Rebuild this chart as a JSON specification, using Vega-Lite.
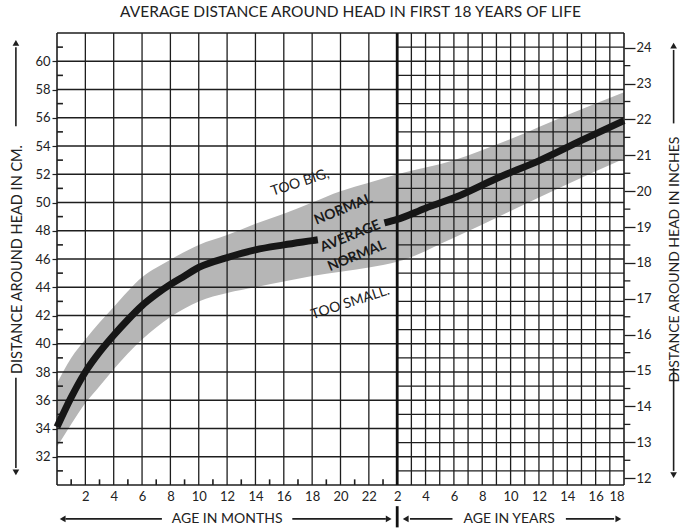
{
  "$schema": "https://vega.github.io/schema/vega-lite/v6.json",
  "width": 567,
  "height": 452,
  "autosize": {"type": "none"},
  "padding": {"left": 57, "top": 33, "right": 66, "bottom": 44},
  "background": "white",
  "config": {"view": {"stroke": null}, "font": "Lato", "axis": {"labelOverlap": false}},
  "title": {"text": "AVERAGE DISTANCE AROUND HEAD IN FIRST 18 YEARS OF LIFE", "fontSize": 15.5, "fontWeight": "normal", "font": "Lato", "color": "#222", "offset": 11, "anchor": "middle", "dx": 10},
  "datasets": {
    "band": [
      {"u": 0, "lo": 32.7, "hi": 37.2}, {"u": 1, "lo": 34.3, "hi": 39.0}, {"u": 2, "lo": 35.8, "hi": 40.3},
      {"u": 3, "lo": 37.0, "hi": 41.5}, {"u": 4, "lo": 38.2, "hi": 42.6}, {"u": 6, "lo": 40.3, "hi": 44.7},
      {"u": 8, "lo": 41.9, "hi": 45.95}, {"u": 10, "lo": 43.0, "hi": 47.0}, {"u": 12, "lo": 43.6, "hi": 47.7},
      {"u": 14, "lo": 44.0, "hi": 48.5}, {"u": 16, "lo": 44.4, "hi": 49.2}, {"u": 18, "lo": 44.8, "hi": 50.0},
      {"u": 20, "lo": 45.1, "hi": 50.8}, {"u": 22, "lo": 45.4, "hi": 51.4}, {"u": 24, "lo": 45.8, "hi": 52.0},
      {"u": 28, "lo": 47.5, "hi": 53.0}, {"u": 32, "lo": 49.4, "hi": 54.5}, {"u": 36, "lo": 51.3, "hi": 56.2},
      {"u": 40, "lo": 53.1, "hi": 57.8}
    ],
    "curve": [
      {"u": 0, "cm": 34.1, "seg": "a"}, {"u": 1, "cm": 36.2, "seg": "a"}, {"u": 2, "cm": 38.0, "seg": "a"},
      {"u": 3, "cm": 39.4, "seg": "a"}, {"u": 4, "cm": 40.6, "seg": "a"}, {"u": 5, "cm": 41.7, "seg": "a"},
      {"u": 6, "cm": 42.7, "seg": "a"}, {"u": 7, "cm": 43.5, "seg": "a"}, {"u": 8, "cm": 44.2, "seg": "a"},
      {"u": 9, "cm": 44.8, "seg": "a"}, {"u": 10, "cm": 45.4, "seg": "a"}, {"u": 12, "cm": 46.1, "seg": "a"},
      {"u": 14, "cm": 46.65, "seg": "a"}, {"u": 16, "cm": 47.0, "seg": "a"}, {"u": 18, "cm": 47.3, "seg": "a"},
      {"u": 18.4, "cm": 47.36, "seg": "a"},
      {"u": 23.1, "cm": 48.55, "seg": "b"}, {"u": 24, "cm": 48.8, "seg": "b"}, {"u": 26, "cm": 49.6, "seg": "b"},
      {"u": 28.2, "cm": 50.4, "seg": "b"}, {"u": 31, "cm": 51.7, "seg": "b"}, {"u": 34.1, "cm": 53.0, "seg": "b"},
      {"u": 37, "cm": 54.4, "seg": "b"}, {"u": 40, "cm": 55.8, "seg": "b"}
    ],
    "rules": [
      {"k": "g", "x": 2, "x2": 2, "y": 30, "y2": 62}, {"k": "g", "x": 4, "x2": 4, "y": 30, "y2": 62},
      {"k": "g", "x": 6, "x2": 6, "y": 30, "y2": 62}, {"k": "g", "x": 8, "x2": 8, "y": 30, "y2": 62},
      {"k": "g", "x": 10, "x2": 10, "y": 30, "y2": 62}, {"k": "g", "x": 12, "x2": 12, "y": 30, "y2": 62},
      {"k": "g", "x": 14, "x2": 14, "y": 30, "y2": 62}, {"k": "g", "x": 16, "x2": 16, "y": 30, "y2": 62},
      {"k": "g", "x": 18, "x2": 18, "y": 30, "y2": 62}, {"k": "g", "x": 20, "x2": 20, "y": 30, "y2": 62},
      {"k": "g", "x": 22, "x2": 22, "y": 30, "y2": 62},
      {"k": "g", "x": 25, "x2": 25, "y": 30, "y2": 62}, {"k": "g", "x": 26, "x2": 26, "y": 30, "y2": 62},
      {"k": "g", "x": 27, "x2": 27, "y": 30, "y2": 62}, {"k": "g", "x": 28, "x2": 28, "y": 30, "y2": 62},
      {"k": "g", "x": 29, "x2": 29, "y": 30, "y2": 62}, {"k": "g", "x": 30, "x2": 30, "y": 30, "y2": 62},
      {"k": "g", "x": 31, "x2": 31, "y": 30, "y2": 62}, {"k": "g", "x": 32, "x2": 32, "y": 30, "y2": 62},
      {"k": "g", "x": 33, "x2": 33, "y": 30, "y2": 62}, {"k": "g", "x": 34, "x2": 34, "y": 30, "y2": 62},
      {"k": "g", "x": 35, "x2": 35, "y": 30, "y2": 62}, {"k": "g", "x": 36, "x2": 36, "y": 30, "y2": 62},
      {"k": "g", "x": 37, "x2": 37, "y": 30, "y2": 62}, {"k": "g", "x": 38, "x2": 38, "y": 30, "y2": 62},
      {"k": "g", "x": 39, "x2": 39, "y": 30, "y2": 62},
      {"k": "g", "x": 0, "x2": 24, "y": 32, "y2": 32}, {"k": "g", "x": 0, "x2": 24, "y": 34, "y2": 34},
      {"k": "g", "x": 0, "x2": 24, "y": 36, "y2": 36}, {"k": "g", "x": 0, "x2": 24, "y": 38, "y2": 38},
      {"k": "g", "x": 0, "x2": 24, "y": 40, "y2": 40}, {"k": "g", "x": 0, "x2": 24, "y": 42, "y2": 42},
      {"k": "g", "x": 0, "x2": 24, "y": 44, "y2": 44}, {"k": "g", "x": 0, "x2": 24, "y": 46, "y2": 46},
      {"k": "g", "x": 0, "x2": 24, "y": 48, "y2": 48}, {"k": "g", "x": 0, "x2": 24, "y": 50, "y2": 50},
      {"k": "g", "x": 0, "x2": 24, "y": 52, "y2": 52}, {"k": "g", "x": 0, "x2": 24, "y": 54, "y2": 54},
      {"k": "g", "x": 0, "x2": 24, "y": 56, "y2": 56}, {"k": "g", "x": 0, "x2": 24, "y": 58, "y2": 58},
      {"k": "g", "x": 0, "x2": 24, "y": 60, "y2": 60},
      {"k": "g", "x": 24, "x2": 40, "y": 31, "y2": 31}, {"k": "g", "x": 24, "x2": 40, "y": 32, "y2": 32},
      {"k": "g", "x": 24, "x2": 40, "y": 33, "y2": 33}, {"k": "g", "x": 24, "x2": 40, "y": 34, "y2": 34},
      {"k": "g", "x": 24, "x2": 40, "y": 35, "y2": 35}, {"k": "g", "x": 24, "x2": 40, "y": 36, "y2": 36},
      {"k": "g", "x": 24, "x2": 40, "y": 37, "y2": 37}, {"k": "g", "x": 24, "x2": 40, "y": 38, "y2": 38},
      {"k": "g", "x": 24, "x2": 40, "y": 39, "y2": 39}, {"k": "g", "x": 24, "x2": 40, "y": 40, "y2": 40},
      {"k": "g", "x": 24, "x2": 40, "y": 41, "y2": 41}, {"k": "g", "x": 24, "x2": 40, "y": 42, "y2": 42},
      {"k": "g", "x": 24, "x2": 40, "y": 43, "y2": 43}, {"k": "g", "x": 24, "x2": 40, "y": 44, "y2": 44},
      {"k": "g", "x": 24, "x2": 40, "y": 45, "y2": 45}, {"k": "g", "x": 24, "x2": 40, "y": 46, "y2": 46},
      {"k": "g", "x": 24, "x2": 40, "y": 47, "y2": 47}, {"k": "g", "x": 24, "x2": 40, "y": 48, "y2": 48},
      {"k": "g", "x": 24, "x2": 40, "y": 49, "y2": 49}, {"k": "g", "x": 24, "x2": 40, "y": 50, "y2": 50},
      {"k": "g", "x": 24, "x2": 40, "y": 51, "y2": 51}, {"k": "g", "x": 24, "x2": 40, "y": 52, "y2": 52},
      {"k": "g", "x": 24, "x2": 40, "y": 53, "y2": 53}, {"k": "g", "x": 24, "x2": 40, "y": 54, "y2": 54},
      {"k": "g", "x": 24, "x2": 40, "y": 55, "y2": 55}, {"k": "g", "x": 24, "x2": 40, "y": 56, "y2": 56},
      {"k": "g", "x": 24, "x2": 40, "y": 57, "y2": 57}, {"k": "g", "x": 24, "x2": 40, "y": 58, "y2": 58},
      {"k": "g", "x": 24, "x2": 40, "y": 59, "y2": 59}, {"k": "g", "x": 24, "x2": 40, "y": 60, "y2": 60},
      {"k": "g", "x": 24, "x2": 40, "y": 61, "y2": 61},
      {"k": "f", "x": 0, "x2": 40, "y": 62, "y2": 62}, {"k": "f", "x": 0, "x2": 40, "y": 30, "y2": 30},
      {"k": "f", "x": 0, "x2": 0, "y": 30, "y2": 62}, {"k": "f", "x": 40, "x2": 40, "y": 30, "y2": 62},
      {"k": "d", "x": 24, "x2": 24, "y": 30, "y2": 62}, {"k": "d", "x": 24, "x2": 24, "y": 28.5, "y2": 27.0},
      {"k": "t", "x": 0, "x2": 0.42, "y": 31, "y2": 31}, {"k": "t", "x": 0, "x2": 0.42, "y": 33, "y2": 33},
      {"k": "t", "x": 0, "x2": 0.42, "y": 35, "y2": 35}, {"k": "t", "x": 0, "x2": 0.42, "y": 37, "y2": 37},
      {"k": "t", "x": 0, "x2": 0.42, "y": 39, "y2": 39}, {"k": "t", "x": 0, "x2": 0.42, "y": 41, "y2": 41},
      {"k": "t", "x": 0, "x2": 0.42, "y": 43, "y2": 43}, {"k": "t", "x": 0, "x2": 0.42, "y": 45, "y2": 45},
      {"k": "t", "x": 0, "x2": 0.42, "y": 47, "y2": 47}, {"k": "t", "x": 0, "x2": 0.42, "y": 49, "y2": 49},
      {"k": "t", "x": 0, "x2": 0.42, "y": 51, "y2": 51}, {"k": "t", "x": 0, "x2": 0.42, "y": 53, "y2": 53},
      {"k": "t", "x": 0, "x2": 0.42, "y": 55, "y2": 55}, {"k": "t", "x": 0, "x2": 0.42, "y": 57, "y2": 57},
      {"k": "t", "x": 0, "x2": 0.42, "y": 59, "y2": 59}, {"k": "t", "x": 0, "x2": 0.42, "y": 61, "y2": 61},
      {"k": "t", "x": 1, "x2": 1, "y": 30, "y2": 30.4}, {"k": "t", "x": 3, "x2": 3, "y": 30, "y2": 30.4},
      {"k": "t", "x": 5, "x2": 5, "y": 30, "y2": 30.4}, {"k": "t", "x": 7, "x2": 7, "y": 30, "y2": 30.4},
      {"k": "t", "x": 9, "x2": 9, "y": 30, "y2": 30.4}, {"k": "t", "x": 11, "x2": 11, "y": 30, "y2": 30.4},
      {"k": "t", "x": 13, "x2": 13, "y": 30, "y2": 30.4}, {"k": "t", "x": 15, "x2": 15, "y": 30, "y2": 30.4},
      {"k": "t", "x": 17, "x2": 17, "y": 30, "y2": 30.4}, {"k": "t", "x": 19, "x2": 19, "y": 30, "y2": 30.4},
      {"k": "t", "x": 21, "x2": 21, "y": 30, "y2": 30.4}, {"k": "t", "x": 23, "x2": 23, "y": 30, "y2": 30.4},
      {"k": "a", "x": -2.9, "x2": -2.9, "y": 55.4, "y2": 61.0}, {"k": "a", "x": -2.9, "x2": -2.9, "y": 37.6, "y2": 31.2},
      {"k": "a", "x": 43.5, "x2": 43.5, "y": 55.6, "y2": 60.8}, {"k": "a", "x": 43.5, "x2": 43.5, "y": 38.3, "y2": 31.0},
      {"k": "a", "x": 0.6, "x2": 7.4, "y": 27.6, "y2": 27.6}, {"k": "a", "x": 16.6, "x2": 23.2, "y": 27.6, "y2": 27.6},
      {"k": "a", "x": 24.9, "x2": 27.9, "y": 27.6, "y2": 27.6}, {"k": "a", "x": 35.9, "x2": 39.3, "y": 27.6, "y2": 27.6}
    ],
    "heads": [
      {"x": -2.9, "y": 61.3, "dir": "up"}, {"x": -2.9, "y": 30.9, "dir": "down"},
      {"x": 43.5, "y": 61.1, "dir": "up"}, {"x": 43.5, "y": 30.7, "dir": "down"},
      {"x": 0.4, "y": 27.6, "dir": "left"}, {"x": 23.4, "y": 27.6, "dir": "right"},
      {"x": 24.6, "y": 27.6, "dir": "left"}, {"x": 39.6, "y": 27.6, "dir": "right"}
    ],
    "xtitles": [
      {"x": 12, "y": 27.6, "text": "AGE IN MONTHS"},
      {"x": 31.9, "y": 27.6, "text": "AGE IN YEARS"}
    ],
    "notes": [
      {"x": 17.15, "y": 51.4, "text": "TOO BIG,", "g": "zone"},
      {"x": 20.7, "y": 42.9, "text": "TOO SMALL.", "g": "zone"},
      {"x": 20.2, "y": 49.5, "text": "NORMAL", "g": "band"},
      {"x": 20.7, "y": 47.6, "text": "AVERAGE", "g": "band"},
      {"x": 21.15, "y": 46.2, "text": "NORMAL", "g": "band"}
    ],
    "inchticks": [
      {"inch": 12.5}, {"inch": 13.5}, {"inch": 14.5}, {"inch": 15.5}, {"inch": 16.5}, {"inch": 17.5},
      {"inch": 18.5}, {"inch": 19.5}, {"inch": 20.5}, {"inch": 21.5}, {"inch": 22.5}, {"inch": 23.5}
    ]
  },
  "layer": [
    {
      "layer": [
        {
          "data": {"name": "band"},
          "mark": {"type": "area", "color": "#b6b6b6", "interpolate": "monotone"},
          "encoding": {
            "x": {"field": "u", "type": "quantitative", "scale": {"domain": [0, 40], "nice": false, "zero": false},
              "axis": {"values": [2,4,6,8,10,12,14,16,18,20,22,24,26,28,30,32,34,36,38,40], "tickCount": 60,
                "labelExpr": "datum.value <= 22 ? datum.value : datum.value - 22", "labelOverlap": false, "labelBound": false,
                "ticks": false, "domain": false, "grid": false, "labelPadding": 5, "labelFontSize": 13, "labelFont": "Lato", "labelColor": "#222", "title": null}},
            "y": {"field": "lo", "type": "quantitative", "scale": {"domain": [30, 62], "nice": false, "zero": false},
              "axis": {"values": [32,34,36,38,40,42,44,46,48,50,52,54,56,58,60], "tickCount": 60, "format": "d", "tickSize": 5, "tickColor": "#222", "tickWidth": 1.2,
                "labelOverlap": false, "labelBound": false,
                "domain": false, "grid": false, "labelPadding": 2, "labelFontSize": 13, "labelFont": "Lato", "labelColor": "#222",
                "title": "DISTANCE AROUND HEAD IN CM.", "titleFont": "Lato", "titleFontSize": 14.5, "titleFontWeight": "normal", "titleColor": "#222", "titlePadding": 10}},
            "y2": {"field": "hi"}
          }
        },
        {
          "data": {"name": "rules"},
          "transform": [{"filter": "datum.k === 'g'"}],
          "mark": {"type": "rule", "color": "#1e1e1e", "strokeWidth": 1.3},
          "encoding": {
            "x": {"field": "x", "type": "quantitative", "scale": {"domain": [0, 40], "nice": false, "zero": false}, "axis": {"tickCount": 60}},
            "x2": {"field": "x2"},
            "y": {"field": "y", "type": "quantitative", "scale": {"domain": [30, 62], "nice": false, "zero": false}, "axis": {"tickCount": 60, "format": "d"}},
            "y2": {"field": "y2"}
          }
        },
        {
          "data": {"name": "rules"},
          "transform": [{"filter": "datum.k === 'f' || datum.k === 't' || datum.k === 'a'"}],
          "mark": {"type": "rule", "color": "#1e1e1e", "strokeWidth": 1.6},
          "encoding": {
            "x": {"field": "x", "type": "quantitative", "scale": {"domain": [0, 40], "nice": false, "zero": false}, "axis": {"tickCount": 60}},
            "x2": {"field": "x2"},
            "y": {"field": "y", "type": "quantitative", "scale": {"domain": [30, 62], "nice": false, "zero": false}, "axis": {"tickCount": 60, "format": "d"}},
            "y2": {"field": "y2"}
          }
        },
        {
          "data": {"name": "rules"},
          "transform": [{"filter": "datum.k === 'd'"}],
          "mark": {"type": "rule", "color": "#111", "strokeWidth": 2.8},
          "encoding": {
            "x": {"field": "x", "type": "quantitative", "scale": {"domain": [0, 40], "nice": false, "zero": false}, "axis": {"tickCount": 60}},
            "x2": {"field": "x2"},
            "y": {"field": "y", "type": "quantitative", "scale": {"domain": [30, 62], "nice": false, "zero": false}, "axis": {"tickCount": 60, "format": "d"}},
            "y2": {"field": "y2"}
          }
        },
        {
          "data": {"name": "curve"},
          "mark": {"type": "line", "color": "#161616", "strokeWidth": 7, "interpolate": "monotone", "strokeCap": "butt"},
          "encoding": {
            "x": {"field": "u", "type": "quantitative", "scale": {"domain": [0, 40], "nice": false, "zero": false}, "axis": {"tickCount": 60}},
            "y": {"field": "cm", "type": "quantitative", "scale": {"domain": [30, 62], "nice": false, "zero": false}, "axis": {"tickCount": 60, "format": "d"}},
            "detail": {"field": "seg"}
          }
        },
        {
          "data": {"name": "heads"},
          "mark": {"type": "point", "filled": true, "color": "#1e1e1e", "opacity": 1, "size": 45},
          "encoding": {
            "x": {"field": "x", "type": "quantitative", "scale": {"domain": [0, 40], "nice": false, "zero": false}, "axis": {"tickCount": 60}},
            "y": {"field": "y", "type": "quantitative", "scale": {"domain": [30, 62], "nice": false, "zero": false}, "axis": {"tickCount": 60, "format": "d"}},
            "shape": {"field": "dir", "type": "nominal", "legend": null,
              "scale": {"domain": ["up", "down", "left", "right"], "range": ["triangle-up", "triangle-down", "triangle-left", "triangle-right"]}}
          }
        },
        {
          "data": {"name": "xtitles"},
          "mark": {"type": "text", "font": "Lato", "fontSize": 14, "color": "#222", "baseline": "middle", "align": "center"},
          "encoding": {
            "x": {"field": "x", "type": "quantitative", "scale": {"domain": [0, 40], "nice": false, "zero": false}, "axis": {"tickCount": 60}},
            "y": {"field": "y", "type": "quantitative", "scale": {"domain": [30, 62], "nice": false, "zero": false}, "axis": {"tickCount": 60, "format": "d"}},
            "text": {"field": "text"}
          }
        },
        {
          "data": {"name": "notes"},
          "transform": [{"filter": "datum.g === 'zone'"}],
          "mark": {"type": "text", "font": "Lato", "fontSize": 14, "color": "#222", "baseline": "middle", "align": "center", "angle": 342},
          "encoding": {
            "x": {"field": "x", "type": "quantitative", "scale": {"domain": [0, 40], "nice": false, "zero": false}, "axis": {"tickCount": 60}},
            "y": {"field": "y", "type": "quantitative", "scale": {"domain": [30, 62], "nice": false, "zero": false}, "axis": {"tickCount": 60, "format": "d"}},
            "text": {"field": "text"}
          }
        },
        {
          "data": {"name": "notes"},
          "transform": [{"filter": "datum.g === 'band'"}],
          "mark": {"type": "text", "font": "Lato", "fontSize": 14, "fontWeight": "bold", "color": "#1a1a1a", "baseline": "middle", "align": "center", "angle": 338},
          "encoding": {
            "x": {"field": "x", "type": "quantitative", "scale": {"domain": [0, 40], "nice": false, "zero": false}, "axis": {"tickCount": 60}},
            "y": {"field": "y", "type": "quantitative", "scale": {"domain": [30, 62], "nice": false, "zero": false}, "axis": {"tickCount": 60, "format": "d"}},
            "text": {"field": "text"}
          }
        }
      ]
    },
    {
      "data": {"name": "inchticks"},
      "mark": {"type": "rule", "color": "#1e1e1e", "strokeWidth": 1.3},
      "encoding": {
        "x": {"datum": 40, "type": "quantitative", "scale": {"domain": [0, 40], "nice": false, "zero": false}, "axis": {"tickCount": 60}},
        "x2": {"datum": 40.45},
        "y": {"field": "inch", "type": "quantitative", "scale": {"domain": [11.811, 24.4094], "nice": false, "zero": false},
          "axis": {"orient": "right", "values": [12,13,14,15,16,17,18,19,20,21,22,23,24], "tickCount": 60, "format": "d", "tickSize": 11, "tickColor": "#1e1e1e", "tickWidth": 1.3,
            "labelOverlap": false, "labelBound": false,
            "domain": false, "grid": false, "labelPadding": 1, "labelFontSize": 13, "labelFont": "Lato", "labelColor": "#222",
            "title": "DISTANCE AROUND HEAD IN INCHES", "titleFont": "Lato", "titleFontSize": 14, "titleFontWeight": "normal", "titleColor": "#222",
            "titleAngle": 270, "titleBaseline": "top", "titlePadding": 16}}
      }
    }
  ],
  "resolve": {"scale": {"y": "independent"}}
}
